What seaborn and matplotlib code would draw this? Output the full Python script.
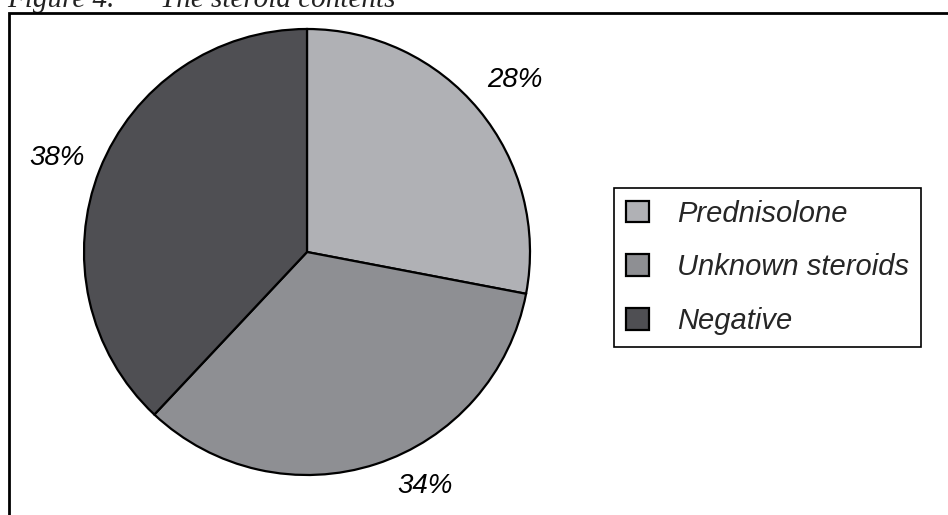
"""Pie chart of steroid contents (Figure 4)."""
import matplotlib
matplotlib.use("Agg")
import seaborn as sns
from matplotlib import pyplot as plt
from matplotlib.patches import Rectangle

categories = ["Prednisolone", "Unknown steroids", "Negative"]
shares = [28, 34, 38]
slice_colors = ["#b0b1b5", "#8e8f93", "#4f4f53"]
title_lead = "Figure 4."
title_text = "The steroid contents"

W, H = 948, 515

sns.set_theme(style="white")
plt.rcParams["font.family"] = ["Liberation Sans", "DejaVu Sans"]

fig = plt.figure(figsize=(W / 100, H / 100), dpi=100)
fig.patch.set_facecolor("white")

# pie axes: centre (307, 252) px, radius 223 px
cx, cy, r = 307, 252, 223
ax = fig.add_axes([(cx - r) / W, (H - cy - r) / H, 2 * r / W, 2 * r / H])
palette = sns.color_palette(slice_colors)
wedges, texts, autotexts = ax.pie(
    shares,
    colors=palette,
    startangle=90,
    counterclock=False,
    autopct="%d%%",
    pctdistance=1.21,
    wedgeprops=dict(edgecolor="black", linewidth=1.6),
    textprops=dict(fontsize=20, style="italic", color="black"),
)
# the 34% label sits a bit to the right of its slice's middle
autotexts[1].set_position((0.53, -1.05))
autotexts[2].set_position((-1.12, 0.42))
ax.set_xlim(-1, 1)
ax.set_ylim(-1, 1)
ax.axis("off")

# outer frame, running off the right and bottom of the image
fig.patches.append(
    Rectangle((9 / W, -0.1), 1.2, 1.1 - 13 / H, transform=fig.transFigure,
              fill=False, edgecolor="black", linewidth=2.0, zorder=5)
)

# title, clipped at the top of the image as in the source
title_font = dict(family=["Liberation Serif", "DejaVu Serif"], style="italic",
                  fontsize=21, va="baseline", color="#222222")
fig.text(7 / W, 1 - 7 / H, title_lead, **title_font)
fig.text(160 / W, 1 - 7 / H, title_text, **title_font)

leg = fig.legend(
    wedges, categories,
    loc="upper left",
    bbox_to_anchor=(614 / W, 1 - 188 / H),
    bbox_transform=fig.transFigure,
    borderaxespad=0,
    prop=dict(style="italic", size=21),
    handlelength=0.8,
    handleheight=0.75,
    handletextpad=0.95,
    labelspacing=0.88,
    borderpad=0.4,
    fancybox=False,
    framealpha=1,
    edgecolor="black",
)
leg.get_frame().set_linewidth(1.2)

fig.savefig("out.png", dpi=100, facecolor="white")
